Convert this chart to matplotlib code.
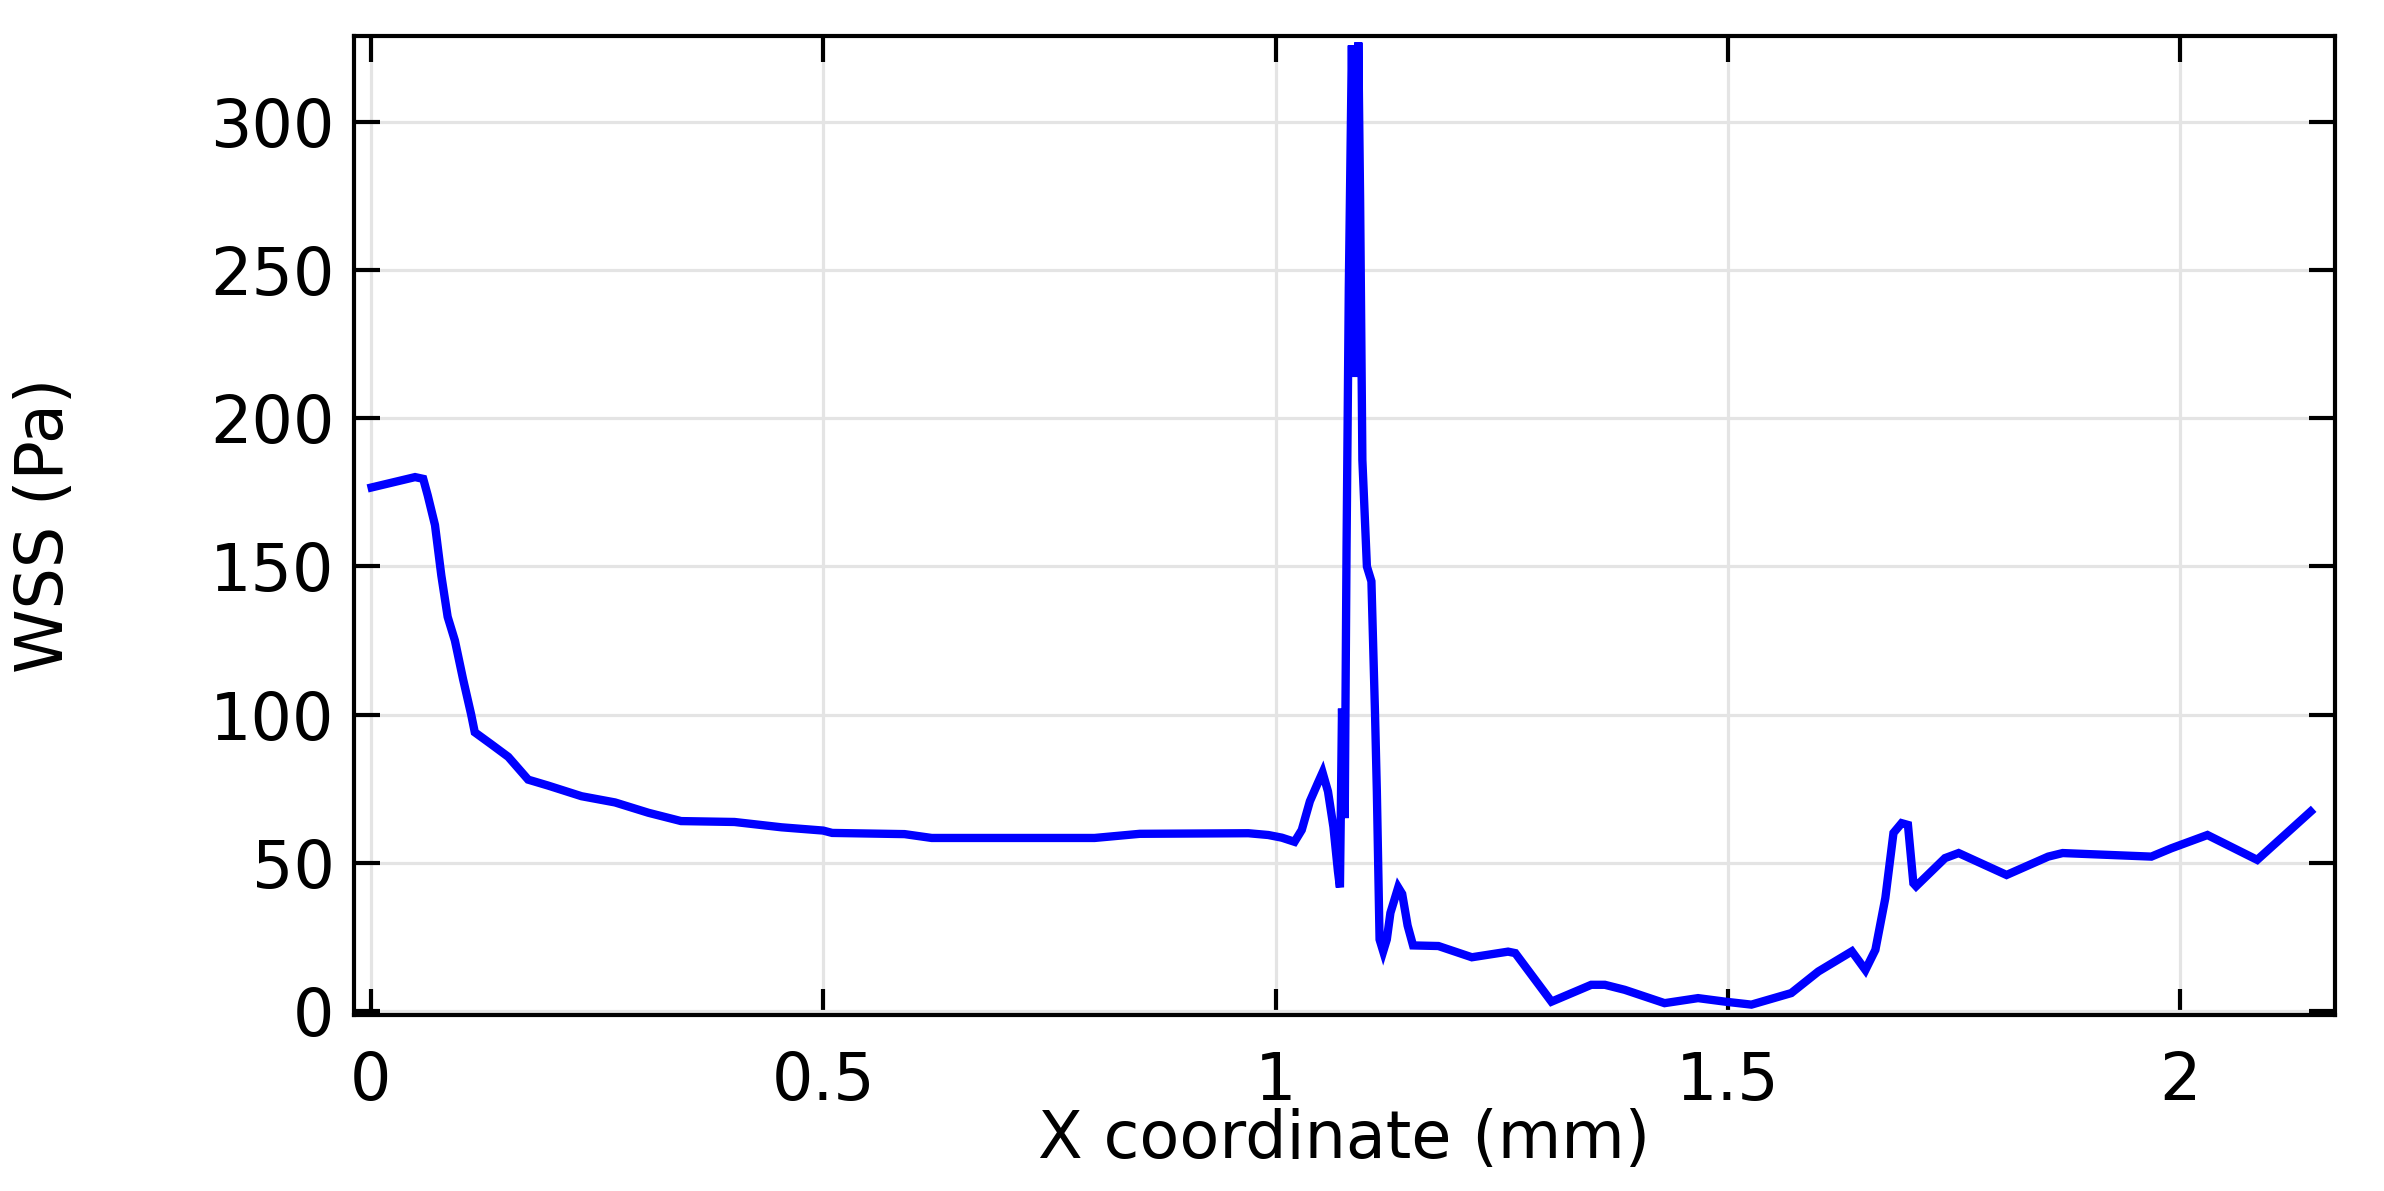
import matplotlib
matplotlib.use("Agg")
import matplotlib.pyplot as plt

# ---- data ----
x_mm = [0.001, 0.049, 0.058, 0.063, 0.071, 0.078, 0.085, 0.093, 0.102, 0.111,
        0.115, 0.133, 0.152, 0.174, 0.196, 0.233, 0.270, 0.307, 0.343, 0.402,
        0.454, 0.500, 0.510, 0.590, 0.620, 0.800, 0.850, 0.970, 0.992, 1.007,
        1.021, 1.029, 1.038, 1.047, 1.052, 1.058, 1.064, 1.069, 1.0712, 1.0735,
        1.0765, 1.0785, 1.081, 1.0844, 1.0888, 1.0915, 1.0935, 1.0960, 1.1010, 1.1060,
        1.110, 1.112, 1.115, 1.119, 1.123, 1.127, 1.1356, 1.140, 1.146, 1.152,
        1.180, 1.217, 1.257, 1.265, 1.305, 1.349, 1.364, 1.386, 1.430, 1.467,
        1.497, 1.526, 1.570, 1.600, 1.637, 1.652, 1.663, 1.674, 1.683, 1.692,
        1.699, 1.705, 1.708, 1.740, 1.755, 1.808, 1.854, 1.870, 1.968, 1.990,
        2.030, 2.085, 2.144]
wss_pa = [176.7, 180.2, 179.6, 174.0, 164.0, 147.0, 133.0, 125.0, 112.0, 100.0,
          94.0, 90.0, 85.7, 78.0, 76.0, 72.4, 70.3, 66.8, 64.0, 63.7,
          61.9, 60.8, 60.0, 59.6, 58.3, 58.3, 59.7, 59.9, 59.3, 58.4,
          57.0, 61.0, 70.7, 77.0, 80.4, 74.0, 62.0, 47.0, 41.6, 102.0,
          65.0, 156.0, 244.0, 326.0, 214.0, 327.0, 274.0, 186.0, 150.0, 145.0,
          100.0, 74.0, 24.0, 20.0, 24.0, 33.0, 41.6, 39.4, 28.7, 22.0,
          21.8, 18.0, 19.9, 19.4, 3.0, 8.7, 8.7, 7.0, 2.5, 4.2,
          3.0, 2.0, 5.9, 13.2, 20.0, 13.7, 20.5, 38.0, 60.0, 63.3,
          62.7, 43.0, 42.0, 51.5, 53.2, 45.8, 52.0, 53.2, 52.0, 54.8,
          59.3, 50.9, 67.2]

x_ticks = [0, 0.5, 1, 1.5, 2]
x_tick_labels = ["0", "0.5", "1", "1.5", "2"]
y_ticks = [0, 50, 100, 150, 200, 250, 300]
y_tick_labels = ["0", "50", "100", "150", "200", "250", "300"]
x_label = "X coordinate (mm)"
y_label = "WSS (Pa)"

# ---- figure ----
plt.rcParams['font.family'] = ['DejaVu Sans']
fig = plt.figure(figsize=(23.84, 11.91), dpi=100)
ax = fig.add_axes([0.14849, 0.14778, 0.83096, 0.82225])

ax.plot(x_mm, wss_pa, color="#0000ff", lw=6.0, solid_joinstyle="miter", zorder=3)

ax.set_xlim(-0.0185, 2.171)
ax.set_ylim(-1.5, 329.3)
ax.set_xticks(x_ticks)
ax.set_xticklabels(x_tick_labels)
ax.set_yticks(y_ticks)
ax.set_yticklabels(y_tick_labels)

ax.grid(True, color="#e4e4e4", lw=2.3, zorder=0)
ax.set_axisbelow(True)

ax.tick_params(axis="both", which="major", direction="in", length=19, width=3,
               top=True, right=True, labelsize=47, colors="black")
ax.tick_params(axis="x", pad=25)
ax.tick_params(axis="y", pad=14)

for s in ax.spines.values():
    s.set_linewidth(3)
    s.set_color("black")

ax.set_xlabel(x_label, fontsize=47)
ax.set_ylabel(y_label, fontsize=47)
ax.xaxis.set_label_coords(0.5, -0.095)
ax.yaxis.set_label_coords(-0.14, 0.5)

fig.savefig("out.png", dpi=100)
